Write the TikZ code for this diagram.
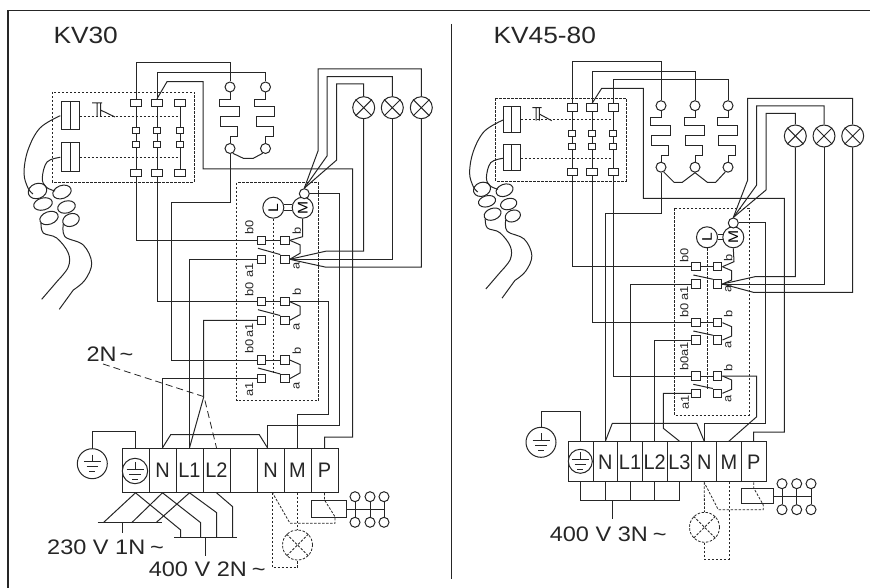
\documentclass[tikz,border=0pt]{standalone}
\usepackage{fontspec}
\setmainfont[FakeStretch=1.12]{Liberation Sans}
\newfontfamily\termfont[FakeStretch=0.95]{Liberation Sans}
\usetikzlibrary{shapes.geometric}
\definecolor{wirecol}{gray}{0.15}
\tikzset{
  dashwire/.style={line width=0.8pt,dash pattern=on 2.5pt off 1.5pt},
  longdash/.style={line width=0.8pt,dash pattern=on 7pt off 4pt},
  post/.style={circle,draw,fill=white,inner sep=0pt,minimum size=10pt},
  bigbox/.style={rectangle,draw,fill=white,inner sep=0pt,minimum width=10.5pt,minimum height=7.5pt},
  smallbox/.style={rectangle,draw,fill=white,inner sep=0pt,minimum width=7pt,minimum height=5.5pt},
  contact/.style={rectangle,draw,fill=white,inner sep=0pt,minimum size=8.5pt},
  motorc/.style={circle,draw,fill=white,inner sep=0pt,minimum size=21pt,font=\fontsize{14}{14}\selectfont},
  pinlab/.style={rotate=90,inner sep=0pt,text=black!85,font=\fontsize{11.5}{11.5}\selectfont},
  title/.style={anchor=base west,inner sep=0pt,text=black!85,font=\fontsize{23.5}{23.5}\selectfont},
  supply/.style={anchor=base west,inner sep=0pt,text=black!85,font=\fontsize{21}{21}\selectfont},
  term/.style={rectangle,draw,inner sep=0pt,text=black!85,font=\termfont\fontsize{21}{21}\selectfont}
}
% heater coil: name, x and y of the top post
\newcommand{\heater}[3]{
  \node[post] (#1t) at (#2,#3) {};
  \node[post] (#1b) at (#2,#3+61.5) {};
  \draw (#1t.south) -- (#2,#3+12.3) -- (#2-11,#3+12.3) -- (#2-11,#3+20) -- (#2+9,#3+20)
    -- (#2+9,#3+30) -- (#2-9.5,#3+30) -- (#2-9.5,#3+40) -- (#2+7.5,#3+40) -- (#2+7.5,#3+50)
    -- (#2,#3+50) -- (#1b.north);
}
% lamp: options, name, position, radius
\newcommand{\lamp}[4][]{
  \node[circle,draw,fill=white,inner sep=0pt,minimum size=#4*2pt,#1] (#2) at (#3) {};
  \draw[#1] (#2.45) -- (#2.225) (#2.135) -- (#2.315);
}
% earth symbol: name, x, y, radius
\newcommand{\earthsym}[4]{
  \node[circle,draw,fill=white,inner sep=0pt,minimum size=#4*2pt] (#1) at (#2,#3) {};
  \draw[line width=0.8pt] (#2,#3-9) -- (#2,#3-2) (#2-8.5,#3-2) -- (#2+8.5,#3-2)
    (#2-5.7,#3+3) -- (#2+5.7,#3+3) (#2-3,#3+8) -- (#2+3,#3+8);
}
% twisted pair of capillary tubes
\newcommand{\twistcable}[1]{
  \draw plot[smooth,tension=0.6] coordinates {(60.3,115.7) (40,128) (28,150) (24,173) (28,188) (33,194)};
  \draw plot[smooth,tension=0.6] coordinates {(60.3,157.3) (47,162) (42.3,178) (46,187) (55,191)};
  \foreach \n/\x/\y/\w/\h/\a in {1/37.5/191/19/15/20,2/43/204/19/12/15,3/49/218/19/12.5/20,
      4/62/192/19/13/20,5/66.5/207/18/12/15,6/71/220/17/12.5/20}
    \node[ellipse,draw,inner sep=0pt,minimum width=\w pt,minimum height=\h pt,rotate=\a,transform shape] (#1loop\n) at (\x,\y) {};
  \draw plot[smooth,tension=0.6] coordinates {(41,223) (43.3,233) (56.7,238) (68.3,253) (68.3,267) (58.3,280)} -- (41.7,299.3);
  \draw plot[smooth,tension=0.6] coordinates {(63.3,224) (65,236.7) (83.3,245) (91.7,263) (85,280) (73.3,290)} -- (59.3,309.3);
}
\begin{document}
\begin{tikzpicture}[x=1pt,y=-1pt,draw=wirecol,line width=1pt]
  \useasboundingbox (0,0) rectangle (870,588);
  % Draw the frame and the divider
  \draw[line width=1.2pt] (870,10.5) -- (8,10.5) -- (8,588);
  \draw (451,24) -- (451,579);
  \node[title] (Atitle) at (53,44) {KV30};
  \node[title] (Btitle) at (493,44) {KV45-80};

  %%% KV30 %%%
  % Thermostat box
  \draw[dashwire] (52,92) rectangle (194,182);
  \node[rectangle,draw,fill=white,inner sep=0pt,minimum width=18pt,minimum height=28pt] (Acoil1) at (70,116) {};
  \node[rectangle,draw,fill=white,inner sep=0pt,minimum width=18pt,minimum height=29pt] (Acoil2) at (70,157.5) {};
  \draw (Acoil1.north) -- (Acoil1.south);
  \draw (Acoil2.north) -- (Acoil2.south);
  \draw (92,103) -- (102,103) (97,103) -- (97,117) (100.5,103) -- (100.5,117) (100.5,110) -- (115,117);
  \foreach \n/\x in {1/136,2/157,3/180} {
    \node[bigbox] (Atop\n) at (\x,103) {};
    \node[smallbox] (Amid\n) at (\x,130.5) {};
    \node[smallbox] (Alow\n) at (\x,144.5) {};
    \node[bigbox] (Abot\n) at (\x,173) {};
    \draw (Atop\n.south) -- (Amid\n.north) (Amid\n.south) -- (Alow\n.north) (Alow\n.south) -- (Abot\n.north);
  }
  \draw[dashwire] (Acoil1.east) -- (Acoil1.east -| Amid3);
  \draw[dashwire] (Acoil2.east) -- (Acoil2.east -| Alow3);
  \twistcable{A}

  % Heaters
  \heater{Ah1}{230}{87}
  \heater{Ah2}{265.5}{87}
  \draw (Ah1b.-60) -- (243.3,158.3) -- (253.3,158.3) -- (Ah2b.-120);

  % Lamps
  \lamp{Alamp1}{363.7,107.7}{11}
  \lamp{Alamp2}{392.3,107.7}{11}
  \lamp{Alamp3}{421.3,107.7}{11}

  % Motor box
  \draw[dashwire] (236.7,182.7) rectangle (318.7,400.7);
  \node[motorc] (Al) at (273.3,207.7) {\rotatebox{90}{L}};
  \node[motorc] (Am) at (302.7,207.7) {\rotatebox{90}{M}};
  \node[post] (Ahub) at (304.3,193.7) {};
  \draw (283.8,205) -- (292.2,205) (283.8,211) -- (292.2,211);

  % Contacts
  \foreach \n/\yb/\ya in {1/240.3/259.3,2/301.7/320.3,3/360/378.7} {
    \node[contact] (Ab0\n) at (261.7,\yb) {};
    \node[contact] (Ab\n) at (285,\yb) {};
    \node[contact] (Aa1\n) at (261.7,\ya) {};
    \node[contact] (Aa\n) at (285,\ya) {};
    \coordinate (Ablade\n) at (258,\yb+8);
    \draw (Ab0\n) -- (Ab\n);
    \draw (Ab\n.east) -- (300,\yb+4.5) -- (300,\yb+13) -- (Aa\n.east);
    \draw (Ablade\n) -- (Aa\n.north west);
  }
  \draw[dashwire] (Al.south) -- (Al.south |- Aa13.north);
  \draw (Am.south) -- (302.7,236.7) -- (Ab1.east);
  \foreach \n/\x/\y/\txt in {1/249.3/227/b0,2/249.3/270/a1,3/249.3/289/b0,4/249.3/330/a1,5/249.3/346.7/b0,6/249.3/389/a1,
      7/296.7/231/b,8/296.7/265.7/a,9/296.7/292/b,10/296.7/327/a,11/296.7/351/b,12/296.7/385.7/a}
    \node[pinlab] (Apin\n) at (\x,\y) {\txt};

  % Terminal strip
  \foreach \n/\x/\txt in {gr/135.5/,n/162.5/N,L1/189.5/L1,L2/216.5/L2,x/243.5/,n2/270.5/N,M/297.5/M,p/324.5/P}
    \node[term,minimum width=27pt,minimum height=44pt] (A\n) at (\x,470.3) {\txt};
  \earthsym{Agrsym}{135}{471}{12.7}
  \earthsym{Aearth}{92.3}{463.7}{15}
  \draw (Aearth.north) |- (135.5,431) -- (Agr.north);

  % Wiring
  \draw (Atop1.north) |- (230,62.5) -- (Ah1t.north);
  \draw (Atop2.north) |- (265.5,73) -- (Ah2t.north);
  \draw (Atop2.north) -- (167,81.7) -| (203,169) -| (352.7,437) -| (Ap.north);
  \draw (Abot1.south) |- (Ab01.west);
  \draw (Abot2.south) |- (Ab02.west);
  \draw (Ah1b.south) |- (171.7,202.7) |- (Ab03.west);
  \draw (Aa11.west) -| (AL1.north);
  \draw (Aa12.west) -| (203.7,397) -- (AL1.north);
  \draw (Aa13.west) -| (An.north);
  \draw (An.north) -- (170.7,434.7) -- (259.3,434.7) -- ([xshift=-3pt]An2.north);
  \draw (Ab2.east) -| (328,414) -| (AM.north);
  \draw (Ahub.east) -| (339,425) -| ([xshift=-3pt]An2.north);
  \draw (Alamp1.north) |- (336.7,84) -- (336.7,160) -- (Ahub.north);
  \draw (Alamp2.north) |- (327,76.7) -- (327,156) -- (Ahub.north);
  \draw (Alamp3.north) |- (318,69) -- (318,151) -- (Ahub.north);
  \draw (Alamp1.south) |- (326.7,251) -- (Aa1.east);
  \draw (Alamp2.south) |- (Aa1.east);
  \draw (Alamp3.south) |- (325,267) -- (Aa1.east);

  % 2N label with its dashed jumper
  \node[supply] (Alab2n) at (86,361) {2N\hspace{3pt}\textasciitilde};
  \coordinate (Atwon) at (103,364);
  \coordinate (Akink) at (204,396.7);
  \draw[longdash] (Atwon) -- (Akink) -- (AL2.north);

  % Supply bars
  \draw[line width=1.5pt] (97.7,522.7) -- (161.7,522.7);
  \draw[line width=1.5pt] (174,537.7) -- (237.3,537.7);
  \draw (Agr.south) -- (103.3,522.7);
  \draw (An.south) -- (131.7,522.7);
  \draw (AL1.south) -- (156,522.7);
  \draw (Agr.south) -- (180.7,530) -- (180.7,537.7);
  \draw (An.south) -- (200.7,522.7) -- (200.7,537.7);
  \draw (AL1.south) -- (216.7,512.7) -- (216.7,537.7);
  \draw (AL2.south) -- (232.7,506.7) -- (232.7,537.7);
  \draw (122.7,522.7) -- (122.7,533);
  \draw (205.3,537.7) -- (205.3,555.7);
  \node[supply] (Alab1) at (46.7,554.3) {230 V 1N\hspace{5pt}\textasciitilde};
  \node[supply] (Alab2) at (148.3,576) {400 V 2N\hspace{5pt}\textasciitilde};

  % Relay and external lamp
  \node[rectangle,draw,inner sep=0pt,minimum width=35pt,minimum height=16.6pt] (Arelay) at (329.2,509) {};
  \foreach \n/\x in {1/355,2/370,3/384} {
    \node[post] (Atr\n) at (\x,496.7) {};
    \node[post] (Abr\n) at (\x,522.3) {};
    \draw (Atr\n.south) -- (Abr\n.north);
  }
  \draw (Arelay.east) -- (Atr3 |- Arelay.east);
  \lamp[dashwire]{Alp}{297.5,545}{15}
  \draw[dashwire] (Ap.south) -- (324.5,500) -- (335,516.7) -- (335,523.3) -- (290,523.3) -- ([xshift=2pt]An2.south);
  \draw[dashwire] ([xshift=2pt]An2.south) -- (272.5,567.7) -- (297.5,567.7) -- (Alp.south);
  \draw[dashwire] (AM.south) -- (Alp.north);

  %%% KV45-80 %%%
  % Thermostat box
  \draw[dashwire] (495.7,98.3) rectangle (626,181);
  \node[rectangle,draw,fill=white,inner sep=0pt,minimum width=17pt,minimum height=26pt] (Bcoil1) at (511.8,119.7) {};
  \node[rectangle,draw,fill=white,inner sep=0pt,minimum width=17pt,minimum height=26pt] (Bcoil2) at (511.8,158) {};
  \draw (Bcoil1.north) -- (Bcoil1.south);
  \draw (Bcoil2.north) -- (Bcoil2.south);
  \draw (532.3,107.7) -- (541.7,107.7) (536,107.7) -- (536,120.7) (539.3,107.7) -- (539.3,120.7) (539.3,114) -- (551.7,120.7);
  \foreach \n/\x in {1/572.3,2/592,3/613.3} {
    \node[bigbox] (Btop\n) at (\x,107.7) {};
    \node[smallbox] (Bmid\n) at (\x,133.3) {};
    \node[smallbox] (Blow\n) at (\x,146.3) {};
    \node[bigbox] (Bbot\n) at (\x,172) {};
    \draw (Btop\n.south) -- (Bmid\n.north) (Bmid\n.south) -- (Blow\n.north) (Blow\n.south) -- (Bbot\n.north);
  }
  \draw[dashwire] (Bcoil1.east) -- (Bcoil1.east -| Bmid3);
  \draw[dashwire] (Bcoil2.east) -- (Bcoil2.east -| Blow3);
  \begin{scope}[shift={(447.5,13.6)},scale=0.92]
    \twistcable{B}
  \end{scope}

  % Heaters
  \heater{Bh1}{661}{105.7}
  \heater{Bh2}{695}{105.7}
  \heater{Bh3}{728}{105.7}
  \draw (Bh1b.-60) -- (674,182.3) -- (682.3,182.3) -- (Bh2b.south) -- (707.3,182.3) -- (715.7,182.3) -- (Bh3b.-120);

  % Lamps
  \lamp{Blamp1}{795.3,136}{11}
  \lamp{Blamp2}{824,136}{11}
  \lamp{Blamp3}{852.7,136}{11}

  % Motor box
  \draw[dashwire] (674.3,208.3) rectangle (749,415);
  \node[motorc] (Bl) at (707,237.3) {\rotatebox{90}{L}};
  \node[motorc] (Bm) at (733.3,237.3) {\rotatebox{90}{M}};
  \node[post] (Bhub) at (733.3,223) {};
  \draw (717.5,235) -- (722.8,235) (717.5,239.6) -- (722.8,239.6);

  % Contacts
  \foreach \n/\yb/\ya in {1/266.7/284,2/322.7/340,3/376/393.3} {
    \node[contact] (Bb0\n) at (696,\yb) {};
    \node[contact] (Bb\n) at (717.7,\yb) {};
    \node[contact] (Ba1\n) at (696,\ya) {};
    \node[contact] (Ba\n) at (717.7,\ya) {};
    \coordinate (Bblade\n) at (693.3,\yb+8.3);
    \draw (Bb0\n) -- (Bb\n);
    \draw (Bb\n.east) -- (731.7,\yb+4) -- (731.7,\yb+13.3) -- (Ba\n.east);
    \draw (Bblade\n) -- (Ba\n.north west);
  }
  \draw[dashwire] (Bl.south) -- (Bl.south |- Ba13.north);
  \draw (Bm.south) -- (734,261.7) -- (Bb1.east);
  \foreach \n/\x/\y/\txt in {1/684.3/255/b0,2/684.3/293/a1,3/684.3/310.7/b0,4/684.3/349/a1,5/684.3/363/b0,6/685/402.7/a1,
      7/728.3/258.3/b,8/728.3/289.3/a,9/728.3/314/b,10/728.3/345/a,11/728.3/367.7/b,12/728.3/399.3/a}
    \node[pinlab] (Bpin\n) at (\x,\y) {\txt};

  % Terminal strip
  \foreach \n/\x/\txt in {gr/580.7/,n/605.4/N,L1/630/L1,L2/654.7/L2,L3/679.4/L3,n2/704.2/N,M/729/M,p/753.7/P}
    \node[term,minimum width=24.7pt,minimum height=40.3pt] (B\n) at (\x,461.8) {\txt};
  \earthsym{Bgrsym}{580.3}{461.3}{12}
  \earthsym{Bearth}{541}{442.3}{15}
  \draw (Bearth.north) |- (580.7,411.7) -- (Bgr.north);

  % Wiring
  \draw (Btop1.north) |- (661,61.7) -- (Bh1t.north);
  \draw (Btop2.north) |- (695,71.7) -- (Bh2t.north);
  \draw (Btop3.north) |- (728,80) -- (Bh3t.north);
  \draw (Btop2.north) -- (601.7,88.3) -| (643.3,198.3) -| (784.3,432) -| (Bp.north);
  \draw (Bbot1.south) |- (Bb01.west);
  \draw (Bbot2.south) |- (Bb02.west);
  \draw (Bbot3.south) |- (Bb03.west);
  \draw (Bh1b.south) |- (605.4,213.3) -- (Bn.north);
  \draw (Ba11.west) -| (BL1.north);
  \draw (Ba12.west) -| (BL2.north);
  \draw (Ba13.west) -| (663.3,428.3) -- (BL3.north);
  \draw (Bn.north) -- (612.3,423.3) -- (696.7,423.3) -- (Bn2.north);
  \draw (Bhub.east) -| (765.7,423.3) -| (Bn2.north);
  \draw (Bb3.east) -| (756.7,416.7) -- (BM.north);
  \draw (Blamp1.north) |- (766,113.3) -- (766,190) -- (Bhub.north);
  \draw (Blamp2.north) |- (756.7,106) -- (756.7,185) -- (Bhub.north);
  \draw (Blamp3.north) |- (747.7,98.3) -- (747.7,180) -- (Bhub.north);
  \draw (Blamp1.south) |- (755,276.7) -- (Ba1.east);
  \draw (Blamp2.south) |- (Ba1.east);
  \draw (Blamp3.south) |- (753.3,292.3) -- (Ba1.east);

  % Supply bar
  \draw (Bgr.south) -- (580.7,500) -- (679.4,500) -- (BL3.south);
  \draw (Bn.south) -- (605.4,500);
  \draw (BL1.south) -- (630,500);
  \draw (BL2.south) -- (654.7,500);
  \draw (612,500) -- (612,519);
  \node[supply] (Blab) at (549.3,541) {400 V 3N\hspace{5pt}\textasciitilde};

  % Relay and external lamp
  \node[rectangle,draw,inner sep=0pt,minimum width=32.3pt,minimum height=15.3pt] (Brelay) at (757.2,496.3) {};
  \foreach \n/\x in {1/782,2/796.7,3/811} {
    \node[post] (Btr\n) at (\x,483.7) {};
    \node[post] (Bbr\n) at (\x,509.7) {};
    \draw (Btr\n.south) -- (Bbr\n.north);
  }
  \draw (Brelay.east) -- (Btr3 |- Brelay.east);
  \lamp[dashwire]{Blp}{704.5,527.3}{15}
  \draw[dashwire] (Bp.south) -- (753.7,488) -- (763.3,505) -- (763.3,509.7) -- (718.3,509.7) -- (Bn2.south);
  \draw[dashwire] (Bn2.south) -- (Blp.north);
  \draw[dashwire] (Blp.south) -- (704.5,559.3) -- (729,559.3) -- (BM.south);
\end{tikzpicture}
\end{document}
